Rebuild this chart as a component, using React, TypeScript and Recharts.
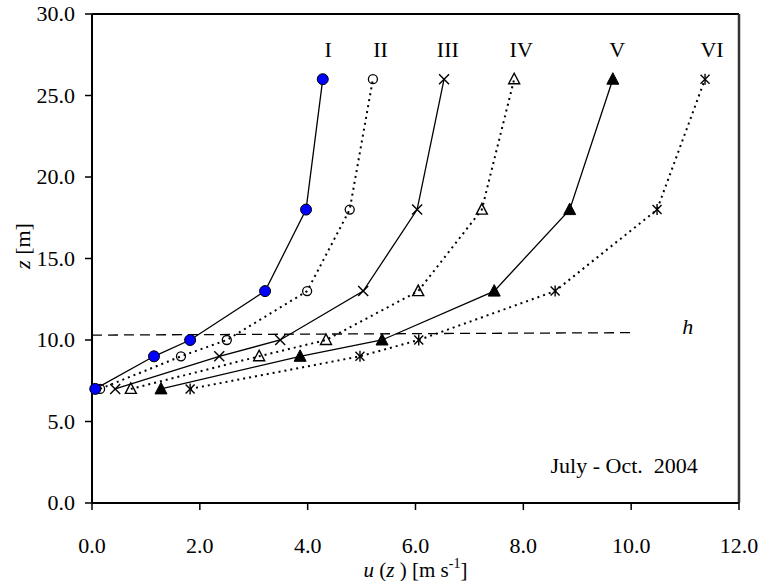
import React from 'react';
import {
  ScatterChart,
  Scatter,
  XAxis,
  YAxis,
  ReferenceLine,
} from 'recharts';

// heights of the measurement levels [m]
const heights = [7, 9, 10, 13, 18, 26];

// wind speed profiles u(z) [m s-1], one per class
const profileI = [0.06, 1.15, 1.82, 3.21, 3.97, 4.28];
const profileII = [0.15, 1.65, 2.5, 3.99, 4.78, 5.21];
const profileIII = [0.43, 2.36, 3.49, 5.03, 6.03, 6.53];
const profileIV = [0.72, 3.1, 4.34, 6.05, 7.23, 7.83];
const profileV = [1.28, 3.86, 5.38, 7.46, 8.86, 9.66];
const profileVI = [1.82, 4.97, 6.06, 8.59, 10.48, 11.37];

const classNames = ['I', 'II', 'III', 'IV', 'V', 'VI'];
const classLabelX = [4.38, 5.35, 6.6, 7.96, 9.74, 11.5];
const classLabelY = 27.8;

const xTicks = [0, 2, 4, 6, 8, 10, 12];
const yTicks = [0, 5, 10, 15, 20, 25, 30];

// canopy height line h
const hLine = [
  { x: 0, y: 10.3 },
  { x: 10, y: 10.45 },
];

const FONT = "'Liberation Serif', 'Times New Roman', Times, 'DejaVu Serif', serif";
const FS = 22;
const txt = { fontFamily: FONT, fontSize: FS };

const toPoints = (u: number[]) => u.map((v, i) => ({ x: v, y: heights[i] }));

const labelData = classNames.map((name, i) => ({ x: classLabelX[i], y: classLabelY, name }));

const BlueDot = ({ cx, cy }: any) => (
  <circle cx={cx} cy={cy} r={5.5} fill="#0000ff" stroke="#000" strokeWidth={1} />
);
const OpenCircle = ({ cx, cy }: any) => (
  <circle cx={cx} cy={cy} r={4.5} fill="none" stroke="#000" strokeWidth={1.3} />
);
const Cross = ({ cx, cy }: any) => (
  <g stroke="#000" strokeWidth={1.4}>
    <line x1={cx - 5} y1={cy - 5} x2={cx + 5} y2={cy + 5} />
    <line x1={cx - 5} y1={cy + 5} x2={cx + 5} y2={cy - 5} />
  </g>
);
const OpenTriangle = ({ cx, cy }: any) => (
  <polygon
    points={`${cx},${cy - 6} ${cx - 5.5},${cy + 4.5} ${cx + 5.5},${cy + 4.5}`}
    fill="none"
    stroke="#000"
    strokeWidth={1.4}
  />
);
const FilledTriangle = ({ cx, cy }: any) => (
  <polygon
    points={`${cx},${cy - 6.5} ${cx - 6},${cy + 5} ${cx + 6},${cy + 5}`}
    fill="#000"
    stroke="#000"
    strokeWidth={1}
  />
);
const Star = ({ cx, cy }: any) => (
  <g stroke="#000" strokeWidth={1.4}>
    <line x1={cx - 4.5} y1={cy - 4.5} x2={cx + 4.5} y2={cy + 4.5} />
    <line x1={cx - 4.5} y1={cy + 4.5} x2={cx + 4.5} y2={cy - 4.5} />
    <line x1={cx} y1={cy - 5.5} x2={cx} y2={cy + 5.5} />
  </g>
);
const ClassLabel = ({ cx, cy, payload }: any) => (
  <text x={cx} y={cy} textAnchor="middle" dominantBaseline="central" style={txt} fill="#000">
    {payload.name}
  </text>
);

const solidLine = { stroke: '#000', strokeWidth: 1.3 };
const dottedLine = { stroke: '#000', strokeWidth: 2, strokeDasharray: '2 4' };

const XTick = ({ x, y, payload }: any) => (
  <text x={x} y={y} dy="0.71em" textAnchor="middle" style={txt} fill="#000">
    {Number(payload.value).toFixed(1)}
  </text>
);
const YTick = ({ x, y, payload }: any) => (
  <text x={x} y={y} dy="0.34em" textAnchor="end" style={txt} fill="#000">
    {Number(payload.value).toFixed(1)}
  </text>
);

const YLabel = () => {
  const cx = 22;
  const cy = 246;
  return (
    <text
      x={cx}
      y={cy}
      transform={`rotate(-90 ${cx} ${cy})`}
      textAnchor="middle"
      dominantBaseline="central"
      style={txt}
      fill="#000"
    >
      <tspan fontStyle="italic">z</tspan>
      <tspan> [m]</tspan>
    </text>
  );
};

const XLabel = ({ viewBox }: any) => {
  const cx = viewBox.x + viewBox.width / 2;
  return (
    <text x={cx} y={577} textAnchor="middle" style={{ fontFamily: FONT, fontSize: 21 }} fill="#000">
      <tspan fontStyle="italic">u</tspan>
      <tspan> (</tspan>
      <tspan fontStyle="italic">z</tspan>
      <tspan> ) [m s</tspan>
      <tspan style={{ fontSize: 14 }} dy={-9}>-1</tspan>
      <tspan dy={9}>]</tspan>
    </text>
  );
};

export default function App() {
  return (
    <div
      style={{
        position: 'absolute',
        left: 0,
        top: 0,
        width: 763,
        height: 581,
        background: '#fff',
        fontFamily: FONT,
      }}
    >
      <ScatterChart width={763} height={581} margin={{ top: 14, right: 24, bottom: 0, left: 0 }}>
        <XAxis
          type="number"
          dataKey="x"
          domain={[0, 12]}
          ticks={xTicks}
          tick={<XTick />}
          tickSize={7}
          tickMargin={27}
          height={78}
          axisLine={{ stroke: '#000', strokeWidth: 2 }}
          tickLine={{ stroke: '#000', strokeWidth: 1.5 }}
          label={{ content: XLabel }}
        />
        <YAxis
          type="number"
          dataKey="y"
          domain={[0, 30]}
          ticks={yTicks}
          tick={<YTick />}
          tickSize={7}
          tickMargin={10}
          width={92}
          axisLine={{ stroke: '#000', strokeWidth: 2 }}
          tickLine={{ stroke: '#000', strokeWidth: 1.5 }}
          label={{ content: YLabel }}
        />
        <ReferenceLine y={30} stroke="#000" strokeWidth={2} />
        <ReferenceLine x={12} stroke="#333" strokeWidth={2.5} />
        <ReferenceLine segment={hLine} stroke="#000" strokeWidth={1.3} strokeDasharray="10 6" />
        <Scatter data={toPoints(profileII)} line={dottedLine} shape={OpenCircle} isAnimationActive={false} />
        <Scatter data={toPoints(profileIV)} line={dottedLine} shape={OpenTriangle} isAnimationActive={false} />
        <Scatter data={toPoints(profileVI)} line={dottedLine} shape={Star} isAnimationActive={false} />
        <Scatter data={toPoints(profileIII)} line={solidLine} shape={Cross} isAnimationActive={false} />
        <Scatter data={toPoints(profileV)} line={solidLine} shape={FilledTriangle} isAnimationActive={false} />
        <Scatter data={toPoints(profileI)} line={solidLine} shape={BlueDot} isAnimationActive={false} />
        <Scatter data={labelData} shape={ClassLabel} isAnimationActive={false} />
        <Scatter
          data={[{ x: 11.05, y: 10.8, name: 'h' }]}
          shape={({ cx, cy }: any) => (
            <text x={cx} y={cy} textAnchor="middle" dominantBaseline="central" style={txt} fontStyle="italic" fill="#000">
              h
            </text>
          )}
          isAnimationActive={false}
        />
        <Scatter
          data={[{ x: 9.87, y: 2.33, name: 'period' }]}
          shape={({ cx, cy }: any) => (
            <text x={cx} y={cy} textAnchor="middle" dominantBaseline="central" style={{ ...txt, whiteSpace: 'pre' }} fill="#000">
              {'July - Oct.  2004'}
            </text>
          )}
          isAnimationActive={false}
        />
      </ScatterChart>
    </div>
  );
}
